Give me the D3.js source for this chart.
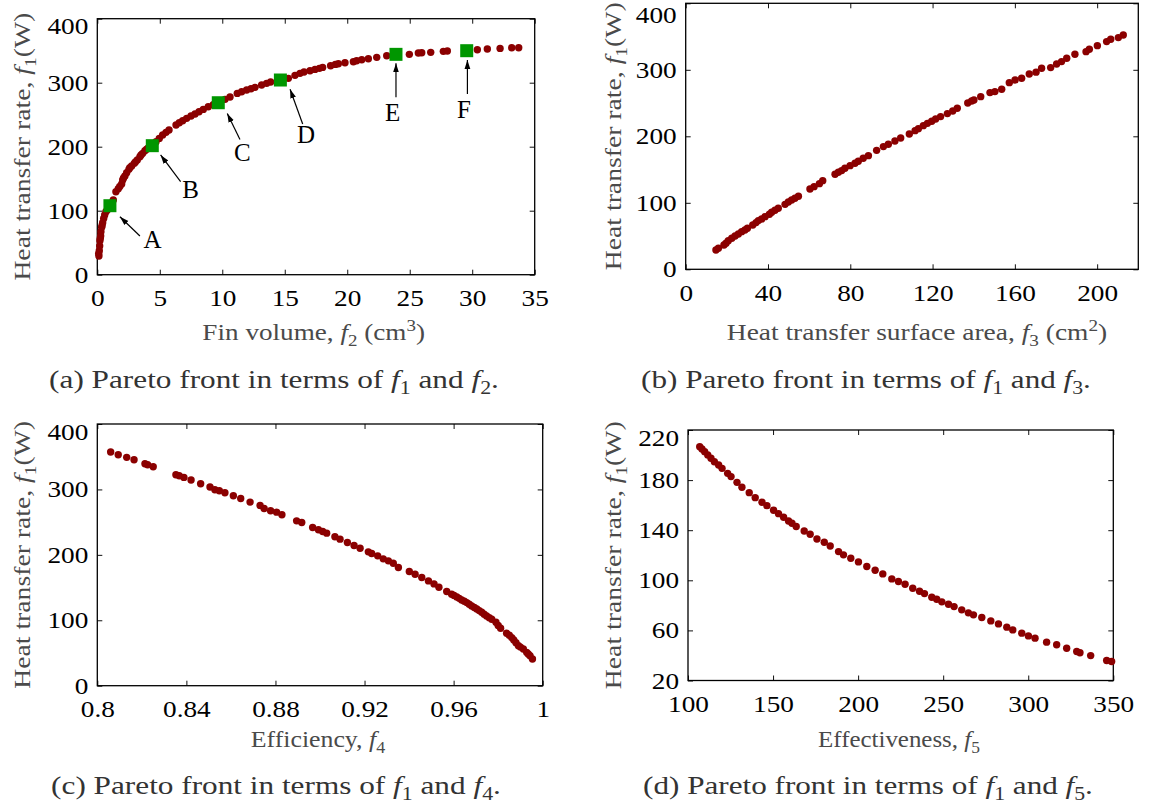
<!DOCTYPE html>
<html>
<head>
<meta charset="utf-8">
<script src="https://cdn.jsdelivr.net/npm/d3@7"></script>
<style>
  body { margin: 0; background: #fff; }
  svg text { font-family: "Liberation Serif", "Times New Roman", serif; white-space: pre; }
</style>
</head>
<body>
<svg id="fig" width="1150" height="803"></svg>
<script>
// ---- Pareto front samples: f1 (heat transfer rate, W) against each other objective ----

// (a) fin volume f2 (cm^3)
const finVolume = [0.11,0.13,0.16,0.19,0.21,0.24,0.27,0.29,0.35,0.38,0.43,0.51,0.59,0.69,0.80,0.90,1.15,1.28,1.49,1.68,1.80,1.95,2.03,2.10,2.21,2.35,2.53,2.60,2.75,2.96,3.05,3.20,3.41,3.50,3.63,3.81,3.95,4.08,4.70,4.96,5.23,5.50,5.74,6.30,6.56,6.83,7.15,7.50,7.82,8.14,8.48,8.88,9.28,10.22,10.62,11.20,11.55,11.95,12.30,12.62,13.15,13.55,13.87,15.29,15.82,16.22,16.54,17.02,17.42,17.77,18.03,18.67,19.05,19.29,19.82,20.49,20.75,21.16,21.69,22.36,23.16,24.97,25.69,25.96,26.68,27.69,28.01,30.41,31.21,32.23,33.16,33.72];
const heatRateByVolume = [33.0,29.2,37.5,44.8,53.1,57.0,60.4,67.2,74.0,77.0,81.3,88.0,93.2,98.4,101.0,104.0,112.0,116.7,129.7,134.4,138.0,141.7,147.9,151.0,154.2,159.4,164.6,167.0,169.8,174.0,176.0,179.2,184.4,187.0,189.6,193.7,196.0,197.9,207.8,213.0,218.2,222.4,226.0,233.9,237.5,240.6,244.3,247.9,251.0,254.7,258.3,262.5,265.6,274.0,277.6,283.3,285.9,288.5,290.6,292.7,296.4,299.0,301.0,306.8,311.5,314.6,316.7,318.7,320.8,322.4,323.9,326.6,328.6,329.7,331.2,332.8,334.4,335.9,337.5,339.6,342.2,344.3,346.4,346.9,347.4,349.0,349.5,351.6,352.6,353.6,354.7,354.7];

// selected designs A-F on the (a) front
const designNames = ["A", "B", "C", "D", "E", "F"];
const designVolume = [1.01, 4.40, 9.68, 14.65, 23.90, 29.56];
const designRate = [107.8, 201.6, 268.7, 304.2, 344.3, 350.0];

// (b) heat transfer surface area f3 (cm^2)
const surfaceArea = [14.7,15.9,18.6,19.6,20.7,22.4,24.0,25.6,27.2,28.8,30.0,32.6,34.2,35.3,36.9,38.6,40.7,41.8,43.4,45.0,48.3,49.9,51.5,53.1,54.8,60.4,62.4,65.0,66.6,72.6,74.2,75.8,77.4,79.9,82.3,83.9,86.3,88.8,92.8,96.1,98.5,101.7,104.5,108.7,111.5,113.1,115.5,117.5,119.6,121.5,123.9,127.2,129.8,132.0,137.1,139.0,140.1,143.4,147.9,150.3,153.6,157.3,160.1,163.3,167.0,170.3,173.0,177.4,180.3,182.7,185.2,189.2,194.6,196.2,200.1,204.6,206.6,210.3,212.7];
const heatRateByArea = [29.1,31.6,36.6,39.1,43.1,46.6,50.1,53.1,56.6,59.1,61.7,66.7,70.2,73.2,75.7,79.2,82.7,85.7,88.7,91.7,97.7,101.3,104.3,106.8,109.8,120.8,124.3,128.8,133.3,142.9,145.9,148.4,151.9,155.9,159.4,162.4,166.9,170.9,178.9,184.5,188.0,193.0,197.5,203.5,208.5,211.5,216.0,219.5,222.6,226.1,229.6,234.1,238.1,242.1,250.1,253.1,254.6,259.6,265.7,267.2,270.7,280.7,284.7,287.2,293.7,296.5,302.3,303.3,308.8,312.3,317.3,323.3,327.3,330.8,336.3,342.4,345.9,348.4,352.4];

// (c) fin efficiency f4
const efficiency = [0.8060,0.8094,0.8132,0.8165,0.8214,0.8226,0.8251,0.8353,0.8368,0.8389,0.8421,0.8464,0.8506,0.8528,0.8548,0.8573,0.8611,0.8644,0.8686,0.8731,0.8749,0.8778,0.8805,0.8829,0.8895,0.8918,0.8967,0.8993,0.9012,0.9030,0.9067,0.9090,0.9123,0.9153,0.9180,0.9217,0.9232,0.9259,0.9284,0.9307,0.9329,0.9352,0.9401,0.9427,0.9457,0.9487,0.9512,0.9534,0.9569,0.9591,0.9602,0.9614,0.9625,0.9636,0.9648,0.9659,0.9670,0.9681,0.9693,0.9704,0.9715,0.9726,0.9737,0.9748,0.9760,0.9771,0.9790,0.9800,0.9811,0.9838,0.9850,0.9861,0.9870,0.9880,0.9891,0.9900,0.9913,0.9928,0.9935,0.9943,0.9954];
const heatRateByEfficiency = [357.1,353.1,349.0,345.4,339.3,337.8,334.7,322.4,320.9,318.4,314.3,308.7,303.6,299.5,298.0,294.9,290.3,286.2,280.6,275.5,270.9,267.3,265.3,261.2,252.0,249.5,241.8,238.3,235.7,233.2,227.6,224.0,218.9,214.3,210.2,204.6,202.0,198.5,193.9,190.8,187.2,180.6,174.5,170.4,165.3,160.2,155.6,150.5,143.9,139.8,138.0,135.7,133.5,131.1,129.0,127.0,124.5,121.9,119.6,117.3,114.8,112.2,109.4,106.6,104.0,101.5,96.9,92.0,87.8,80.1,77.0,73.5,70.0,65.8,61.2,59.0,56.1,51.0,48.5,45.9,40.8];

// (d) fin effectiveness f5
const effectiveness = [106.9,108.2,109.8,111.6,113.5,115.5,118.0,120.0,123.3,125.3,128.8,131.7,136.0,139.5,143.5,146.4,150.3,153.2,156.2,159.1,161.1,163.6,168.3,171.8,175.8,180.1,183.6,188.5,191.4,195.7,200.2,205.1,210.0,214.5,219.8,223.7,227.6,232.1,236.1,239.0,243.3,246.2,249.2,253.1,256.4,260.9,264.8,267.8,272.7,278.0,282.5,287.4,290.9,296.2,300.1,304.0,310.8,316.7,322.6,328.5,330.4,336.7,346.1,349.0];
const heatRateByEffectiveness = [206.7,204.8,202.7,200.1,197.4,194.7,192.1,189.4,185.4,182.8,178.2,174.3,170.0,166.0,162.3,159.6,155.9,153.2,150.3,147.4,145.5,142.9,139.4,136.8,133.0,130.4,127.4,122.9,120.3,117.6,114.7,111.0,108.0,105.1,101.1,99.0,96.9,93.7,91.3,89.4,86.5,84.9,82.8,80.9,79.0,76.4,74.0,72.4,70.3,67.6,65.2,62.6,60.4,57.8,55.6,53.8,50.6,48.5,45.8,43.1,42.1,39.9,36.0,35.2];

// ---- tick values and their labels ----
const ticksVolume = [0, 5, 10, 15, 20, 25, 30, 35];
const ticksArea = [0, 40, 80, 120, 160, 200];
const ticksEfficiency = [0.8, 0.84, 0.88, 0.92, 0.96, 1];
const labelsEfficiency = ["0.8", "0.84", "0.88", "0.92", "0.96", "1"];
const ticksEffectiveness = [100, 150, 200, 250, 300, 350];
const ticksRate = [0, 100, 200, 300, 400];
const ticksRateLow = [20, 60, 100, 140, 180, 220];

// ---- drawing ----
const svg = d3.select("#fig");
const TICK_FONT = 23.5;
const TICK_STRETCH = 1.16;   // wide figure-style numerals
const TITLE_FONT = 23;
const CAPTION_FONT = 25.5;
const DOT_COLOR = "#8b0000";
const DESIGN_COLOR = "#009600";
const TITLE_COLOR = "#4a4a4a";
const CAPTION_COLOR = "#333";

svg.append("defs").append("marker")
  .attr("id", "arrowhead")
  .attr("viewBox", "0 -5 10 10")
  .attr("refX", 10).attr("refY", 0)
  .attr("markerWidth", 9).attr("markerHeight", 9)
  .attr("markerUnits", "userSpaceOnUse")
  .attr("orient", "auto")
  .append("path").attr("d", "M0,-3.2L10,0L0,3.2Z").attr("fill", "#000");

// text built from [string, kind] runs; kind: "" plain, "i" italic, "sub", "sup"
function richText(parent, runs, opt) {
  const g = parent.append("g")
    .attr("transform", `translate(${opt.x},${opt.y})` + (opt.rotate ? ` rotate(${opt.rotate})` : ""));
  const t = g.append("text")
    .attr("text-anchor", "middle")
    .attr("font-size", opt.size)
    .attr("fill", opt.fill);
  let shift = 0;
  runs.forEach(([str, kind]) => {
    const target = kind === "sub" ? opt.size * 0.24 : kind === "sup" ? -opt.size * 0.4 : 0;
    const s = t.append("tspan").text(str);
    if (target !== shift) s.attr("dy", target - shift);
    shift = target;
    if (kind === "i") s.attr("font-style", "italic");
    if (kind === "sub" || kind === "sup") s.attr("font-size", opt.size * 0.7);
  });
  if (opt.width) {
    const w = t.node().getBBox().width;
    t.attr("transform", `scale(${opt.width / w},1)`);
  }
  return t;
}

const rateTitle = [["Heat transfer rate, ", ""], ["f", "i"], ["1", "sub"], ["(W)", ""]];

const panels = [
  {
    box: { left: 97.3, right: 534.7, top: 18.7, bottom: 274.7 },
    xDomain: [0, 35], yDomain: [0, 400],
    xTicks: ticksVolume, xLabels: ticksVolume.map(String),
    yTicks: ticksRate,
    xs: finVolume, ys: heatRateByVolume,
    xTitle: [["Fin volume, ", ""], ["f", "i"], ["2", "sub"], [" (cm", ""], ["3", "sup"], [")", ""]],
    xTitlePos: { x: 313.7, y: 340, w: 222.7 },
    yTitleX: 30,
    caption: [["(a) Pareto front in terms of ", ""], ["f", "i"], ["1", "sub"], [" and ", ""], ["f", "i"], ["2", "sub"], [".", ""]],
    captionPos: { x: 274, y: 388 },
    designs: true
  },
  {
    box: { left: 685.7, right: 1138.3, top: 3.3, bottom: 269.3 },
    xDomain: [0, 220], yDomain: [0, 400],
    xTicks: ticksArea, xLabels: ticksArea.map(String),
    yTicks: ticksRate,
    xs: surfaceArea, ys: heatRateByArea,
    xTitle: [["Heat transfer surface area, ", ""], ["f", "i"], ["3", "sub"], [" (cm", ""], ["2", "sup"], [")", ""]],
    xTitlePos: { x: 917, y: 340, w: 380.6 },
    yTitleX: 621,
    caption: [["(b) Pareto front in terms of ", ""], ["f", "i"], ["1", "sub"], [" and ", ""], ["f", "i"], ["3", "sub"], [".", ""]],
    captionPos: { x: 866, y: 388 }
  },
  {
    box: { left: 97.3, right: 542.7, top: 424, bottom: 685.7 },
    xDomain: [0.8, 1], yDomain: [0, 400],
    xTicks: ticksEfficiency, xLabels: labelsEfficiency,
    yTicks: ticksRate,
    xs: efficiency, ys: heatRateByEfficiency,
    xTitle: [["Efficiency, ", ""], ["f", "i"], ["4", "sub"]],
    xTitlePos: { x: 318, y: 747, w: 134.5 },
    yTitleX: 30,
    caption: [["(c) Pareto front in terms of ", ""], ["f", "i"], ["1", "sub"], [" and ", ""], ["f", "i"], ["4", "sub"], [".", ""]],
    captionPos: { x: 276, y: 794 }
  },
  {
    box: { left: 688, right: 1113.3, top: 430, bottom: 680.5 },
    xDomain: [100, 350], yDomain: [20, 220],
    xTicks: ticksEffectiveness, xLabels: ticksEffectiveness.map(String),
    yTicks: ticksRateLow,
    xs: effectiveness, ys: heatRateByEffectiveness,
    xTitle: [["Effectiveness, ", ""], ["f", "i"], ["5", "sub"]],
    xTitlePos: { x: 899, y: 747, w: 162 },
    yTitleX: 621,
    caption: [["(d) Pareto front in terms of ", ""], ["f", "i"], ["1", "sub"], [" and ", ""], ["f", "i"], ["5", "sub"], [".", ""]],
    captionPos: { x: 868, y: 794 }
  }
];

// arrow tail / head and letter position, offsets in px from each design marker
const calloutOffsets = [
  { tail: [30, 30.3], head: [10, 11], label: [42.7, 33.7] },
  { tail: [28.3, 36], head: [8.3, 9.3], label: [38.3, 44.3] },
  { tail: [21.7, 36.7], head: [9, 10.7], label: [24, 50] },
  { tail: [22.3, 44], head: [9.7, 9.3], label: [25.7, 55] },
  { tail: [0, 43], head: [0, 9], label: [-3.3, 58.3] },
  { tail: [0.7, 43.3], head: [0.7, 9.3], label: [-2.7, 58.7] }
];

function styleAxis(sel) {
  sel.attr("font-family", null).attr("font-size", TICK_FONT);
  sel.select(".domain").remove();
  sel.selectAll(".tick line").attr("stroke", "#111").attr("stroke-width", 1);
  sel.selectAll(".tick text").attr("fill", "#000");
}

function drawPanel(p) {
  const b = p.box;
  const g = svg.append("g");
  const x = d3.scaleLinear().domain(p.xDomain).range([b.left, b.right]);
  const y = d3.scaleLinear().domain(p.yDomain).range([b.bottom, b.top]);
  const fmtX = d => p.xLabels[p.xTicks.indexOf(d)];

  const bottom = g.append("g").attr("transform", `translate(0,${b.bottom})`)
    .call(d3.axisBottom(x).tickValues(p.xTicks).tickFormat(fmtX)
      .tickSizeInner(-5).tickSizeOuter(0).tickPadding(15))
    .call(styleAxis);
  bottom.selectAll(".tick text").attr("transform", `scale(${TICK_STRETCH},1)`);
  g.append("g").attr("transform", `translate(0,${b.top})`)
    .call(d3.axisTop(x).tickValues(p.xTicks).tickFormat("")
      .tickSizeInner(-5).tickSizeOuter(0))
    .call(styleAxis);
  const left = g.append("g").attr("transform", `translate(${b.left},0)`)
    .call(d3.axisLeft(y).tickValues(p.yTicks).tickFormat(d3.format("d"))
      .tickSizeInner(-5).tickSizeOuter(0).tickPadding(9))
    .call(styleAxis);
  left.selectAll(".tick text")
    .attr("x", -9 / TICK_STRETCH)
    .attr("transform", `scale(${TICK_STRETCH},1)`);
  // keep the topmost value label inside the frame height and the page
  left.selectAll(".tick").filter(d => d === p.yDomain[1]).select("text")
    .attr("y", Math.max(7.5, 14.5 - b.top));
  g.append("g").attr("transform", `translate(${b.right},0)`)
    .call(d3.axisRight(y).tickValues(p.yTicks).tickFormat("")
      .tickSizeInner(-5).tickSizeOuter(0))
    .call(styleAxis);

  g.append("rect")
    .attr("x", b.left).attr("y", b.top)
    .attr("width", b.right - b.left).attr("height", b.bottom - b.top)
    .attr("fill", "none").attr("stroke", "#000").attr("stroke-width", 1.3);

  g.append("g").selectAll("circle")
    .data(d3.zip(p.xs, p.ys))
    .join("circle")
    .attr("cx", d => x(d[0])).attr("cy", d => y(d[1]))
    .attr("r", 3.7).attr("fill", DOT_COLOR);

  if (p.designs) {
    const designs = designNames.map((name, i) => ({ name, v: designVolume[i], f: designRate[i], o: calloutOffsets[i] }));
    const size = 13;
    g.append("g").selectAll("rect")
      .data(designs).join("rect")
      .attr("x", d => x(d.v) - size / 2).attr("y", d => y(d.f) - size / 2)
      .attr("width", size).attr("height", size)
      .attr("fill", DESIGN_COLOR);
    g.append("g").selectAll("line")
      .data(designs).join("line")
      .attr("x1", d => x(d.v) + d.o.tail[0]).attr("y1", d => y(d.f) + d.o.tail[1])
      .attr("x2", d => x(d.v) + d.o.head[0]).attr("y2", d => y(d.f) + d.o.head[1])
      .attr("stroke", "#000").attr("stroke-width", 1.2)
      .attr("marker-end", "url(#arrowhead)");
    g.append("g").selectAll("text")
      .data(designs).join("text")
      .attr("x", d => x(d.v) + d.o.label[0]).attr("y", d => y(d.f) + d.o.label[1] + 8.3)
      .attr("text-anchor", "middle").attr("font-size", 25).attr("fill", "#000")
      .text(d => d.name);
  }

  richText(g, p.xTitle, { x: p.xTitlePos.x, y: p.xTitlePos.y, size: TITLE_FONT, fill: TITLE_COLOR, width: p.xTitlePos.w });
  richText(g, rateTitle, { x: p.yTitleX, y: (b.top + b.bottom) / 2, rotate: -90, size: TITLE_FONT, fill: TITLE_COLOR, width: 268 });
  richText(g, p.caption, { x: p.captionPos.x, y: p.captionPos.y, size: CAPTION_FONT, fill: CAPTION_COLOR, width: 450 });
}

panels.forEach(drawPanel);
</script>
</body>
</html>
